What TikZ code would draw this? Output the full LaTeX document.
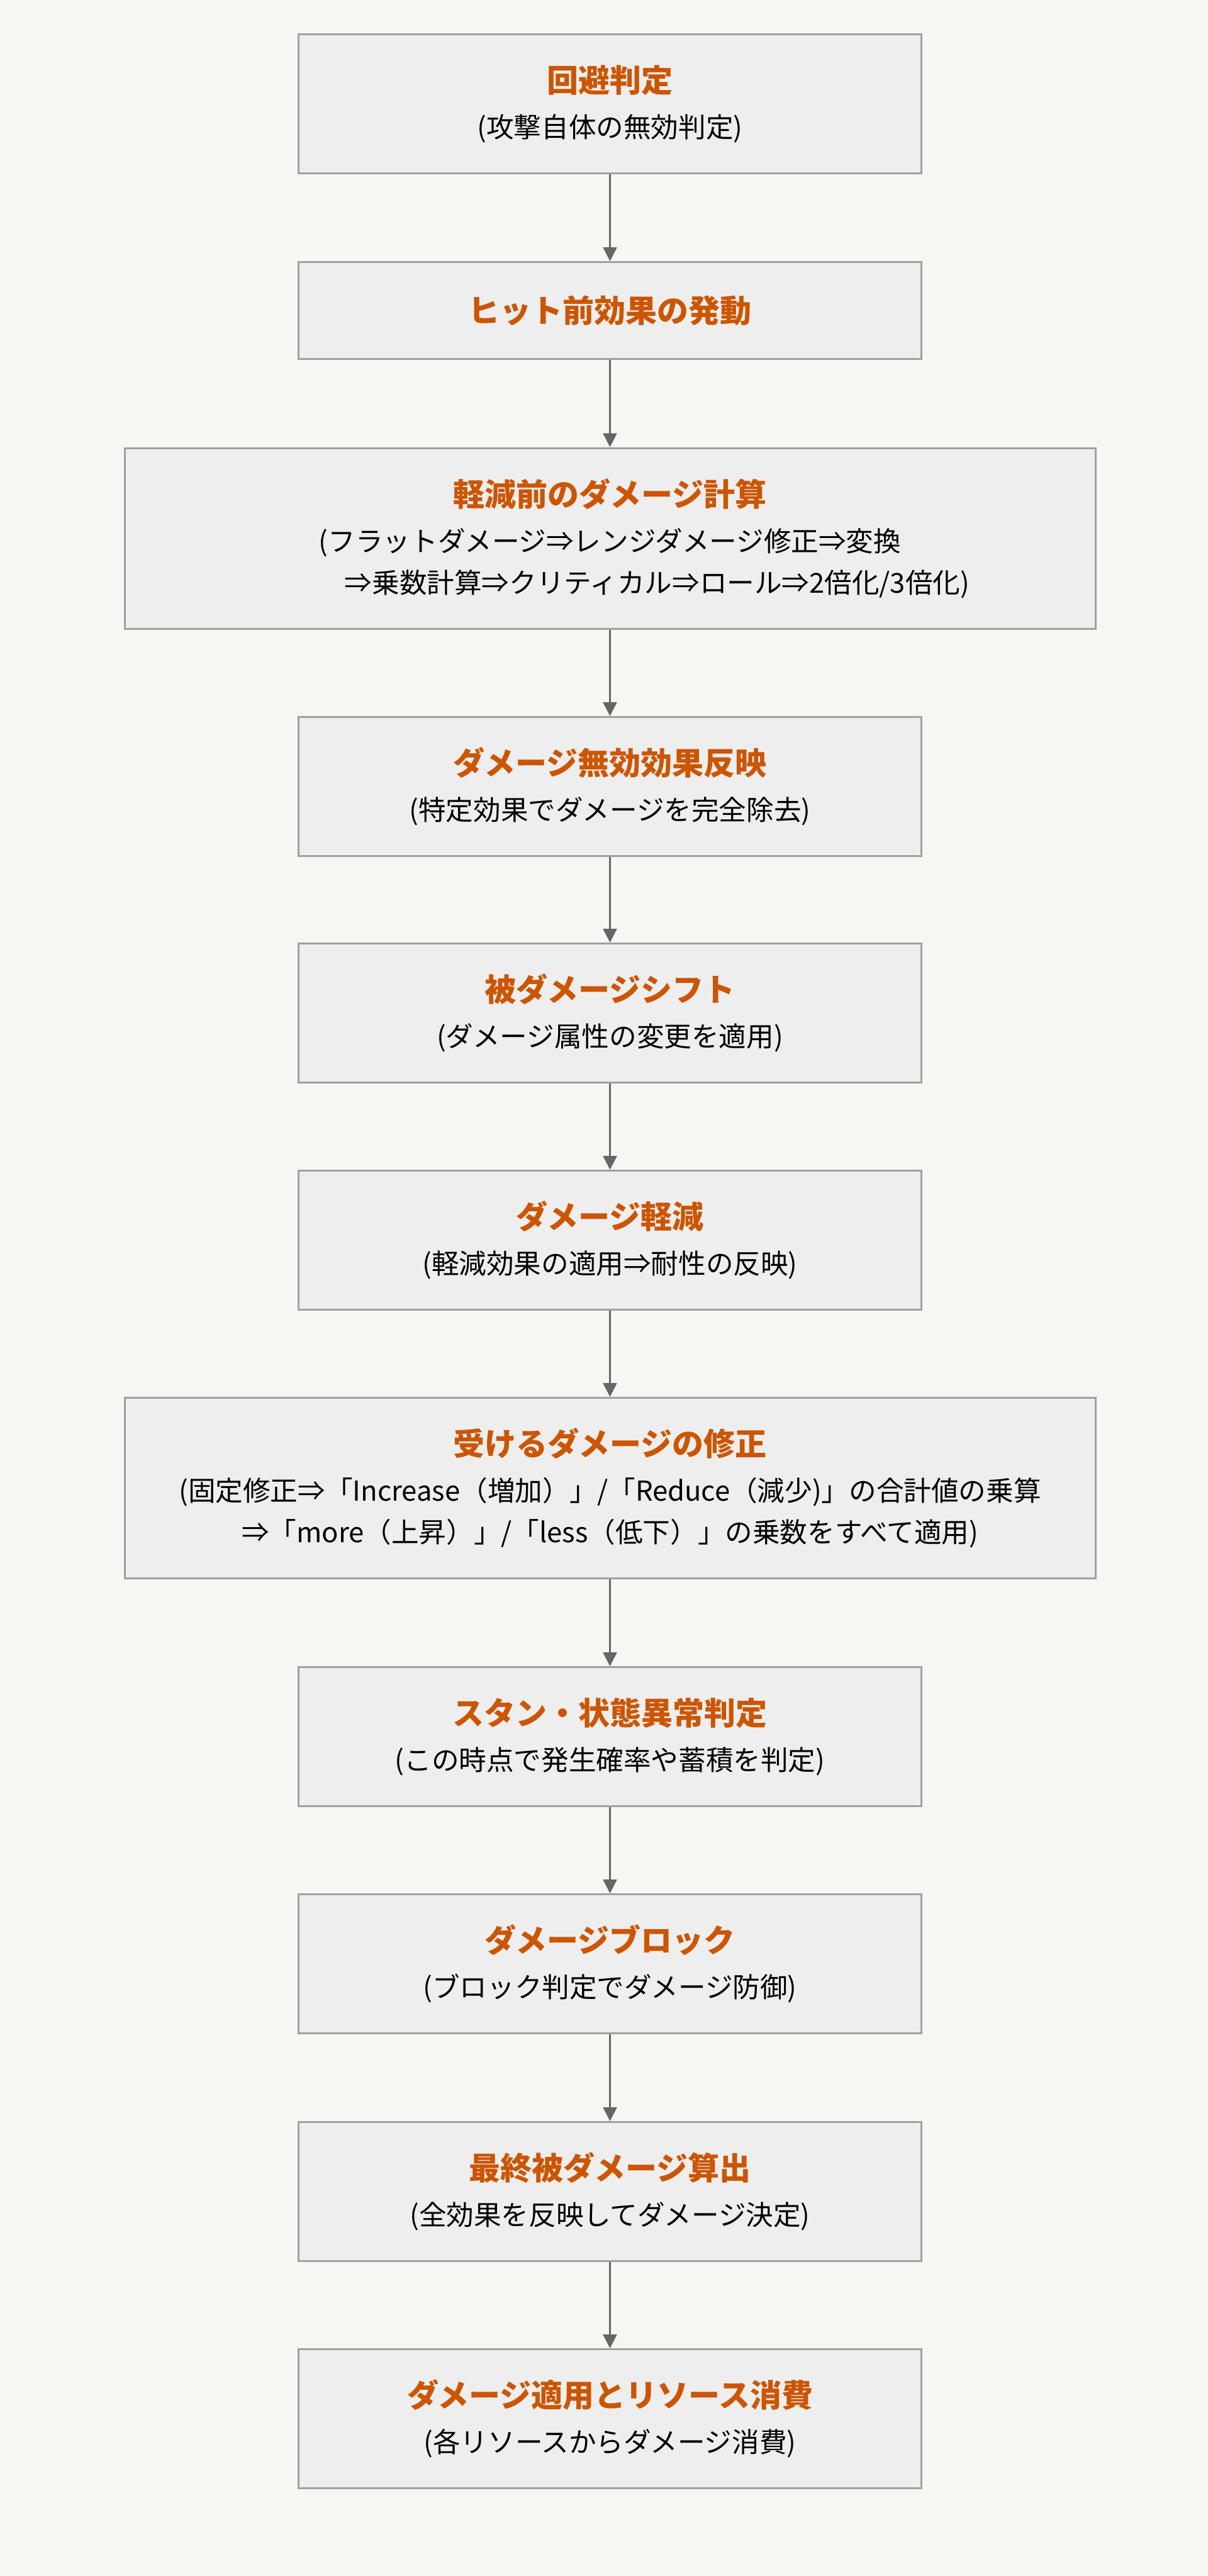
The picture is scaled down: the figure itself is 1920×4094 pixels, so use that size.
\documentclass[tikz,border=0pt]{standalone}
\usepackage{fontspec}
\setmainfont{Noto Sans CJK JP}
\usetikzlibrary{arrows.meta}
\definecolor{pagebg}{HTML}{F7F6F3}
\definecolor{boxfill}{HTML}{EEEEEE}
\definecolor{boxline}{HTML}{A0A0A0}
\definecolor{titleorange}{HTML}{CC5500}
\definecolor{flowgray}{HTML}{666666}
\tikzset{
    stepbox/.style={draw=boxline, fill=boxfill, line width=1.5pt, minimum width=495pt, minimum height=110.5pt, inner sep=0pt, align=center, font=\fontsize{21.8}{33}\selectfont},
    widebox/.style={stepbox, minimum width=771.5pt, minimum height=143.5pt},
    flow/.style={draw=flowgray, line width=1.35pt, -{Triangle[width=11pt,length=11pt]}}
}
\newcommand{\steptitle}[1]{{\color{titleorange}\bfseries\fontsize{25}{36}\selectfont #1}}
\begin{document}
    \begin{tikzpicture}[x=0.5pt,y=-0.5pt]
        \fill[pagebg] (0,0) rectangle (1920,4094);
        \useasboundingbox (0,0) rectangle (1920,4094);
        \node[stepbox] (dodge) at (969.5,165) {\steptitle{回避判定}\\[3pt](攻撃自体の無効判定)};
        \node[stepbox, minimum height=77pt] (prehit) at (969.5,493.5) {\steptitle{ヒット前効果の発動}};
        \node[widebox] (rawcalc) at (969.5,855.5) {\steptitle{軽減前のダメージ計算}\\[3pt](フラットダメージ⇒レンジダメージ修正⇒変換\\\hspace*{75pt}⇒乗数計算⇒クリティカル⇒ロール⇒2倍化/3倍化)};
        \node[stepbox] (nullify) at (969.5,1250) {\steptitle{ダメージ無効効果反映}\\[3pt](特定効果でダメージを完全除去)};
        \node[stepbox] (shift) at (969.5,1610) {\steptitle{被ダメージシフト}\\[3pt](ダメージ属性の変更を適用)};
        \node[stepbox] (reduce) at (969.5,1971) {\steptitle{ダメージ軽減}\\[3pt](軽減効果の適用⇒耐性の反映)};
        \node[widebox] (taken) at (969.5,2365) {\steptitle{受けるダメージの修正}\\[3pt](固定修正⇒「Increase（増加）」/「Reduce（減少)」の合計値の乗算\\⇒「more（上昇）」/「less（低下）」の乗数をすべて適用)};
        \node[stepbox] (stun) at (969.5,2760) {\steptitle{スタン・状態異常判定}\\[3pt](この時点で発生確率や蓄積を判定)};
        \node[stepbox] (block) at (969.5,3121) {\steptitle{ダメージブロック}\\[3pt](ブロック判定でダメージ防御)};
        \node[stepbox] (final) at (969.5,3483) {\steptitle{最終被ダメージ算出}\\[3pt](全効果を反映してダメージ決定)};
        \node[stepbox] (apply) at (969.5,3844) {\steptitle{ダメージ適用とリソース消費}\\[3pt](各リソースからダメージ消費)};
        \draw[flow] (dodge) -- (prehit);
        \draw[flow] (prehit) -- (rawcalc);
        \draw[flow] (rawcalc) -- (nullify);
        \draw[flow] (nullify) -- (shift);
        \draw[flow] (shift) -- (reduce);
        \draw[flow] (reduce) -- (taken);
        \draw[flow] (taken) -- (stun);
        \draw[flow] (stun) -- (block);
        \draw[flow] (block) -- (final);
        \draw[flow] (final) -- (apply);
    \end{tikzpicture}
\end{document}
